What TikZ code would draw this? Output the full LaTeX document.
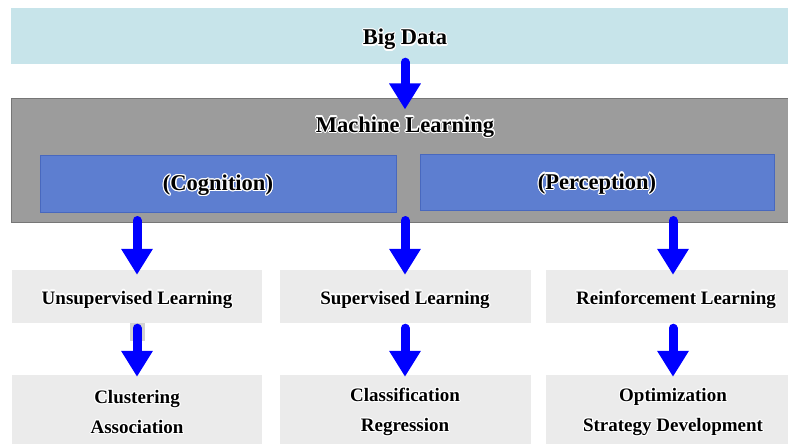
\documentclass[tikz,border=0pt]{standalone}
\usepackage{fontspec}
\setmainfont{Liberation Serif}
\usepackage{contour}
\contourlength{1.1pt}
\usetikzlibrary{arrows.meta,calc}
\definecolor{bdfill}{HTML}{C7E4EA}
\definecolor{mlfill}{HTML}{9C9C9C}
\definecolor{mlline}{HTML}{767676}
\definecolor{bluefill}{HTML}{5D7ED0}
\definecolor{blueline}{HTML}{4868BE}
\definecolor{lvfill}{HTML}{EBEBEB}
\definecolor{patch}{HTML}{D2D2D2}
\definecolor{arrblue}{HTML}{0000FF}
\newcommand{\ct}[1]{\contour{white}{#1}}
\tikzset{
  box/.style={rectangle, inner sep=0pt, anchor=center},
  bigfont/.style={font=\fontsize{22.5}{27}\selectfont\bfseries},
  smallfont/.style={font=\fontsize{19}{30}\selectfont\bfseries, align=center},
  bdbox/.style={box, fill=bdfill, minimum width=788pt, minimum height=56pt},
  mlbox/.style={box, fill=mlfill, draw=mlline, line width=1pt, minimum width=788pt, minimum height=123pt},
  bluebox/.style={box, fill=bluefill, draw=blueline, line width=0.6pt, bigfont, text height=14pt, text depth=0pt},
  lvbox/.style={box, fill=lvfill, smallfont},
  bigarrow/.style={draw=arrblue, line width=9pt, line cap=round,
    -{Triangle[width=30pt,length=26pt]}, arrblue},
}
\begin{document}
\begin{tikzpicture}[x=1pt,y=-1pt]
\useasboundingbox (0,0) rectangle (788,444);
\fill[white] (0,0) rectangle (788,444);
% Big Data
\node[bdbox, bigfont, text height=18pt, text depth=0pt] (bd) at (405,36) {\ct{Big Data}};
% Machine Learning
\node[mlbox] (ml) at (405,160.5) {};
\node[bigfont, inner sep=0pt, text height=16pt, text depth=0pt] (mlt) at (405,124) {\ct{Machine Learning}};
\node[bluebox, minimum width=356pt, minimum height=57pt] (cog) at (218,183.5) {\ct{(Cognition)}};
\node[bluebox, minimum width=354pt, minimum height=56pt] (per) at (597,182) {\ct{(Perception)}};
% level 2
\node[lvbox, text height=15pt, text depth=0pt, minimum width=250pt, minimum height=53pt] (u) at (137,296.5) {\ct{Unsupervised Learning}};
\node[lvbox, text height=15pt, text depth=0pt, minimum width=251pt, minimum height=53pt] (s) at (405,296.5) {\ct{Supervised Learning}};
\node[lvbox, text height=15pt, text depth=0pt, minimum width=254pt, minimum height=53pt] (r) at (673,296.5) {\hspace*{6pt}\ct{Reinforcement Learning}};
% level 3
\node[lvbox, minimum width=250pt, minimum height=75pt] (u3) at (137,412.5) {\ct{Clustering}\\\ct{Association}};
\node[lvbox, minimum width=251pt, minimum height=75pt] (s3) at (405,412.5) {\ct{Classification}\\\ct{Regression}};
\node[lvbox, minimum width=254pt, minimum height=75pt] (r3) at (673,412.5) {\ct{Optimization}\\\ct{Strategy Development}};
% small patch
\fill[patch] (129.5,323) rectangle (144.5,341);
% arrows
\draw[bigarrow] ($(bd.south)+(0,-2)$) -- ($(ml.north)+(0,11)$);
\draw[bigarrow] ($(u.north |- ml.south)+(0,-2)$) -- ($(u.north)+(0,5)$);
\draw[bigarrow] ($(s.north |- ml.south)+(0,-2)$) -- ($(s.north)+(0,5)$);
\draw[bigarrow] ($(r.north |- ml.south)+(0,-2)$) -- ($(r.north)+(0,5)$);
\draw[bigarrow] ($(u.south)+(0,5)$) -- ($(u3.north)+(0,2)$);
\draw[bigarrow] ($(s.south)+(0,5)$) -- ($(s3.north)+(0,2)$);
\draw[bigarrow] ($(r.south)+(0,5)$) -- ($(r3.north)+(0,2)$);
\end{tikzpicture}
\end{document}
